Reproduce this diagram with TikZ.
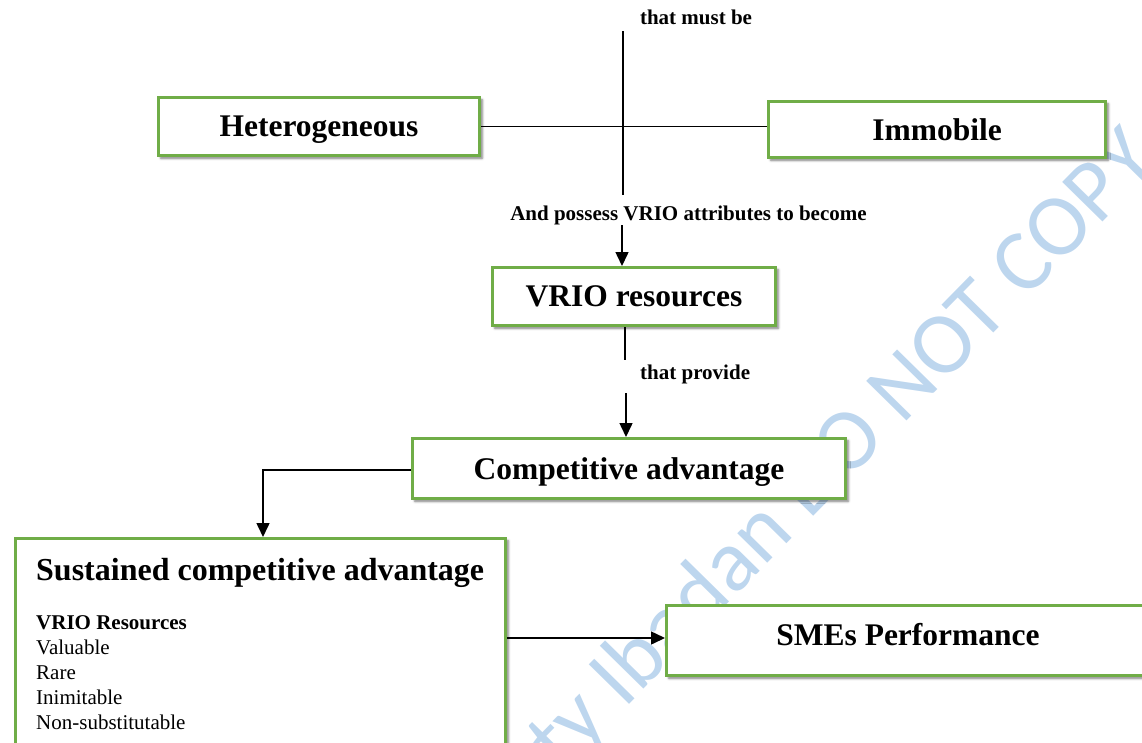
\documentclass[tikz,border=0pt]{standalone}
\usepackage{fontspec}
\setmainfont{Liberation Serif}
\newfontfamily\wmfont{Carlito}
\usetikzlibrary{arrows.meta,shadows.blur}
\definecolor{boxgreen}{RGB}{112,173,71}
\definecolor{wmblue}{RGB}{189,214,238}

\begin{document}
\begin{tikzpicture}[x=1pt,y=-1pt,
  box/.style={draw=boxgreen, line width=2.6pt, fill=white, inner sep=0pt,
    text depth=0pt,
    blur shadow={shadow xshift=2.5pt, shadow yshift=-2.5pt,
                 shadow blur radius=2.5pt, shadow opacity=55},
    font=\fontsize{31.5}{36}\selectfont\bfseries},
  lbl/.style={font=\fontsize{21}{25}\selectfont\bfseries, inner sep=0pt},
  link/.style={line width=1.5pt, draw=black},
  arr/.style={link, -{Triangle[length=14pt,width=13pt]}},
]
\useasboundingbox (0,0) rectangle (1142,742);
\clip (0,0) rectangle (1142,742);

% background stamp
\node[anchor=base, rotate=45.5, text=wmblue, inner sep=0pt,
      font=\wmfont\fontsize{88}{100}\selectfont] (stamp) at (861,468)
      {ty Ibadan DO NOT COPY};

% boxes
\node[box, minimum width=321.4pt, minimum height=58.4pt] (het) at (319,126.5) {Heterogeneous};
\node[box, minimum width=337.4pt, minimum height=56.4pt] (imm) at (937,129.5) {Immobile};
\node[box, minimum width=283.4pt, minimum height=58.4pt] (vrio) at (634,296.5) {VRIO resources};
\node[box, minimum width=433.4pt, minimum height=60.4pt] (comp) at (629,468.5) {Competitive advantage};
\node[box, minimum width=490.4pt, minimum height=230.4pt] (sust) at (260.5,653.5) {};
\node[box, minimum width=483.4pt, minimum height=70.4pt, text depth=12pt] (smes) at (908,640.5) {SMEs Performance};

% contents of the sustained-advantage box
\node[anchor=base west, inner sep=0pt, font=\fontsize{32}{36}\selectfont\bfseries]
  (title) at (36,580) {Sustained competitive advantage};
\node[anchor=north west, inner sep=0pt, align=left, font=\fontsize{21}{25}\selectfont]
  (list) at (36,615) {\textbf{VRIO Resources}\\Valuable\\Rare\\Inimitable\\Non-substitutable};

% labels
\node[lbl, anchor=base] (mustbe) at (696,24) {that must be};
\node[lbl, anchor=base] (possess) at (688.5,220) {And possess VRIO attributes to become};
\node[lbl, anchor=base west] (provide) at (640,379) {that provide};

% connectors
\coordinate (vtop) at (623,31);
\coordinate (vbot) at (623,195);
\draw[link] (het.east) -- (het.east -| imm.west);
\draw[link] (vtop) -- (vbot);

\coordinate (a1) at (622,225);
\draw[arr] (a1) -- (a1 |- vrio.north);

\coordinate (p1) at (625,360);
\draw[link] (p1 |- vrio.south) -- (p1);
\coordinate (p2) at (626,393);
\draw[arr] (p2) -- (p2 |- comp.north);

\coordinate (bend) at (263,470);
\draw[arr] (comp.west |- bend) -- (bend) -- (bend |- sust.north);

\coordinate (s1) at (0,638);
\draw[arr] (sust.east |- s1) -- (smes.west |- s1);
\end{tikzpicture}
\end{document}
